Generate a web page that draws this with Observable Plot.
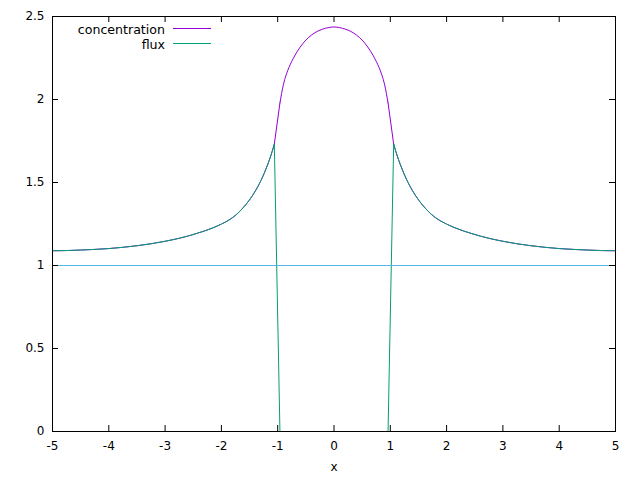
<!DOCTYPE html>
<html><head><meta charset="utf-8">
<script src="https://cdn.jsdelivr.net/npm/d3@7"></script>
<script src="https://cdn.jsdelivr.net/npm/@observablehq/plot@0.6"></script>
<style>
body{margin:0;background:#fff;}
#wrap{position:relative;width:640px;height:480px;font-family:"DejaVu Sans",sans-serif;}
</style></head><body><div id="wrap"></div>
<script>
// sample positions (x): left outer branch, inner branch, right outer branch
const xs = [
  -5, -4.75, -4.5, -4.25, -4, -3.75, -3.5, -3.25, -3, -2.75, -2.6, -2.45, -2.3, -2.15, -2, -1.9, -1.8, -1.72, -1.63, -1.57, -1.51, -1.45, -1.39, -1.33, -1.27, -1.2, -1.15, -1.1, -1.06,
  -0.96, -0.9, -0.85, -0.8, -0.7, -0.6, -0.5, -0.4, -0.3, -0.2, -0.1, 0, 0.1, 0.2, 0.3, 0.4, 0.5, 0.6, 0.7, 0.8, 0.85, 0.9, 0.96,
  1.06, 1.1, 1.15, 1.2, 1.27, 1.33, 1.39, 1.45, 1.51, 1.57, 1.63, 1.72, 1.8, 1.9, 2, 2.15, 2.3, 2.45, 2.6, 2.75, 3, 3.25, 3.5, 3.75, 4, 4.25, 4.5, 4.75, 5
];
// concentration values
const concentration = [
  1.089, 1.090, 1.093, 1.097, 1.102, 1.1095, 1.119, 1.131, 1.146, 1.164, 1.177, 1.192, 1.208, 1.227, 1.2495, 1.267, 1.289, 1.311, 1.342, 1.365, 1.391, 1.420, 1.453, 1.490, 1.532, 1.589, 1.634, 1.685, 1.731,
  1.98, 2.088, 2.148, 2.193, 2.262, 2.316, 2.358, 2.388, 2.41, 2.424, 2.433, 2.437, 2.433, 2.424, 2.41, 2.388, 2.358, 2.316, 2.262, 2.193, 2.148, 2.088, 1.98,
  1.731, 1.685, 1.634, 1.589, 1.532, 1.490, 1.453, 1.420, 1.391, 1.365, 1.342, 1.311, 1.289, 1.267, 1.2495, 1.227, 1.208, 1.192, 1.177, 1.164, 1.146, 1.131, 1.119, 1.1095, 1.102, 1.097, 1.093, 1.090, 1.089
];
// flux values
const flux = [
  1.089, 1.090, 1.093, 1.097, 1.102, 1.1095, 1.119, 1.131, 1.146, 1.164, 1.177, 1.192, 1.208, 1.227, 1.2495, 1.267, 1.289, 1.311, 1.342, 1.365, 1.391, 1.420, 1.453, 1.490, 1.532, 1.589, 1.634, 1.685, 1.731,
  0, 0, 0, 0, 0, 0, 0, 0, 0, 0, 0, 0, 0, 0, 0, 0, 0, 0, 0, 0, 0, 0, 0,
  1.731, 1.685, 1.634, 1.589, 1.532, 1.490, 1.453, 1.420, 1.391, 1.365, 1.342, 1.311, 1.289, 1.267, 1.2495, 1.227, 1.208, 1.192, 1.177, 1.164, 1.146, 1.131, 1.119, 1.1095, 1.102, 1.097, 1.093, 1.090, 1.089
];
const referenceLevel = [1];
const xTicks = [-5, -4, -3, -2, -1, 0, 1, 2, 3, 4, 5];
const yTicks = [0, 0.5, 1, 1.5, 2, 2.5];
const seriesNames = ["concentration", "flux"];
const seriesColors = ["#9400d3", "#009e73"];
const referenceColor = "#56b4e9";
const xLabel = "x";

const W = 640, H = 480;
const mL = 52, mR = 25, mT = 16, mB = 49;
const innerW = W - mL - mR, innerH = H - mT - mB;
const tick = 6;

const rows = xs.map((x, i) => ({x, c: concentration[i], f: flux[i]}));
// branch index ranges
const leftEnd = 28, innerStart = 29, innerEnd = 51, rightStart = 52;
const leftRows = rows.slice(0, leftEnd + 1);
const innerRows = rows.slice(innerStart, innerEnd + 1);
const rightRows = rows.slice(rightStart);
const bridgeL = rows.slice(leftEnd, innerStart + 1);
const bridgeR = rows.slice(innerEnd, rightStart + 1);
const fluxMid = rows.slice(leftEnd, rightStart + 1);

const cOpts = {x: "x", y: "c", stroke: seriesColors[0], strokeWidth: 1};
const fOpts = {x: "x", y: "f", stroke: seriesColors[1], strokeWidth: 1};

const chart = Plot.plot({
  width: W, height: H,
  marginLeft: mL, marginRight: mR, marginTop: mT, marginBottom: mB,
  style: {fontFamily: "DejaVu Sans, sans-serif", fontSize: "12px", background: "#fff", color: "#000"},
  x: {domain: [-5, 5], label: null},
  y: {domain: [0, 2.5], label: null},
  marks: [
    Plot.line(leftRows, {...cOpts, curve: "monotone-x"}),
    Plot.line(bridgeL, cOpts),
    Plot.line(innerRows, {...cOpts, curve: "monotone-x"}),
    Plot.line(bridgeR, cOpts),
    Plot.line(rightRows, {...cOpts, curve: "monotone-x"}),
    Plot.line(leftRows, {...fOpts, curve: "monotone-x"}),
    Plot.line(fluxMid, fOpts),
    Plot.line(rightRows, {...fOpts, curve: "monotone-x"}),
    Plot.ruleY(referenceLevel, {y: d => d, stroke: referenceColor, strokeWidth: 1}),
    Plot.ruleX(xTicks, {x: d => d, insetTop: innerH - tick, stroke: "#000"}),
    Plot.ruleX(xTicks, {x: d => d, insetBottom: innerH - tick, stroke: "#000"}),
    Plot.ruleY(yTicks, {y: d => d, insetRight: innerW - tick, stroke: "#000"}),
    Plot.ruleY(yTicks, {y: d => d, insetLeft: innerW - tick, stroke: "#000"}),
    Plot.frame({stroke: "#000", strokeWidth: 1}),
    Plot.axisX(xTicks, {tickSize: 0, tickPadding: 10, tickFormat: d => String(d), fontSize: 12}),
    Plot.axisY(yTicks, {tickSize: 0, tickPadding: 8, tickFormat: d => String(d), fontSize: 12}),
    Plot.text([xLabel], {frameAnchor: "bottom", dy: 39, text: d => d, fontSize: 12})
  ]
});
document.getElementById("wrap").appendChild(chart);

// legend (top-left, inside the frame, like gnuplot's key)
const leg = d3.select("#wrap").append("svg")
  .attr("width", 240).attr("height", 60)
  .style("position", "absolute").style("left", "0px").style("top", "0px");
seriesNames.forEach((name, i) => {
  const cy = 29 + i * 15;
  leg.append("text").attr("x", 165).attr("y", cy).attr("text-anchor", "end")
    .attr("dominant-baseline", "central")
    .style("font-family", "DejaVu Sans, sans-serif").style("font-size", "12.6px")
    .text(name);
  leg.append("line").attr("x1", 173).attr("x2", 211).attr("y1", cy - 0.5).attr("y2", cy - 0.5)
    .attr("stroke", seriesColors[i]).attr("stroke-width", 1);
});
</script></body></html>
